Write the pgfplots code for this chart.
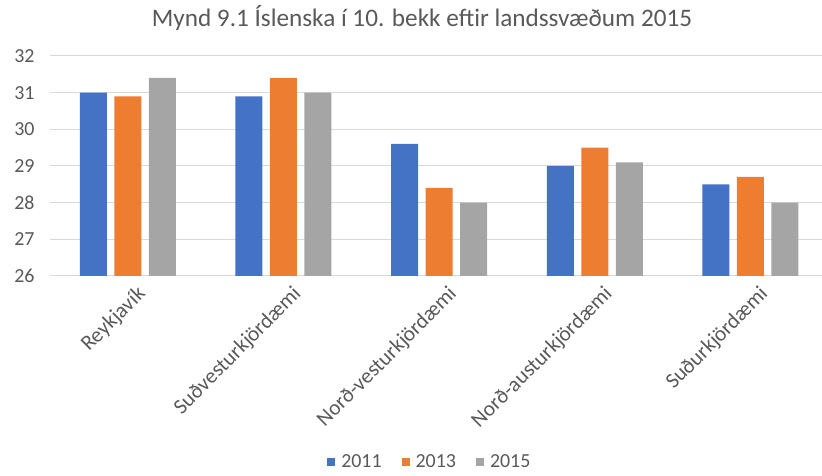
\documentclass[border=0pt]{standalone}
\usepackage{pgfplots}
\pgfplotsset{compat=1.18}
\usepackage{fontspec}
\setmainfont{Carlito}
\definecolor{cblue}{HTML}{4472C4}
\definecolor{corange}{HTML}{ED7D31}
\definecolor{cgray}{HTML}{A5A5A5}
\definecolor{gridgray}{HTML}{D9D9D9}
\definecolor{txtgray}{HTML}{595959}
\begin{document}
\begin{tikzpicture}[x=1bp,y=1bp]
\useasboundingbox (0,0) rectangle (822,476);
\begin{axis}[
  at={(50bp,200bp)}, anchor=south west,
  scale only axis, width=772bp, height=220bp,
  ymin=26, ymax=32, ytick={26,...,32},
  xmin=-0.5, xmax=4.46,
  xtick={0,1,2,3,4},
  xticklabels={Reykjavík,Suðvesturkjördæmi,Norð-vesturkjördæmi,Norð-austurkjördæmi,Suðurkjördæmi},
  ybar=7.5bp, bar width=27bp,
  axis line style={draw=none},
  major tick length=0pt,
  ymajorgrids, grid style={gridgray, line width=1bp},
  /pgf/number format/assume math mode=true,
  ticklabel style={font=\fontsize{20}{24}\selectfont, text=txtgray},
  yticklabel style={anchor=east, xshift=-12bp},
  xticklabel style={font=\fontsize{21.5}{25}\selectfont, rotate=45, anchor=north east, xshift=3bp, yshift=-8bp},
  legend columns=3,
  legend style={at={(0.492,-0.845)}, anchor=center, draw=none, fill=none,
    font=\fontsize{20}{23}\selectfont, text=txtgray,
    /tikz/every odd column/.append style={column sep=4bp},
    /tikz/every even column/.append style={column sep=18bp}},
  legend image code/.code={\fill[#1] (0bp,-4bp) rectangle (8bp,4bp);},
]
\addplot[fill=cblue, draw=none] coordinates {(0,31.0) (1,30.9) (2,29.6) (3,29.0) (4,28.5)};
\addplot[fill=corange, draw=none] coordinates {(0,30.9) (1,31.4) (2,28.4) (3,29.5) (4,28.7)};
\addplot[fill=cgray, draw=none] coordinates {(0,31.4) (1,31.0) (2,28.0) (3,29.1) (4,28.0)};
\legend{2011,2013,2015}
\end{axis}
\node[font=\fontsize{25.3}{29}\selectfont, text=txtgray] at (422,458) {Mynd 9.1 Íslenska í 10. bekk eftir landssvæðum 2015};
\end{tikzpicture}
\end{document}
